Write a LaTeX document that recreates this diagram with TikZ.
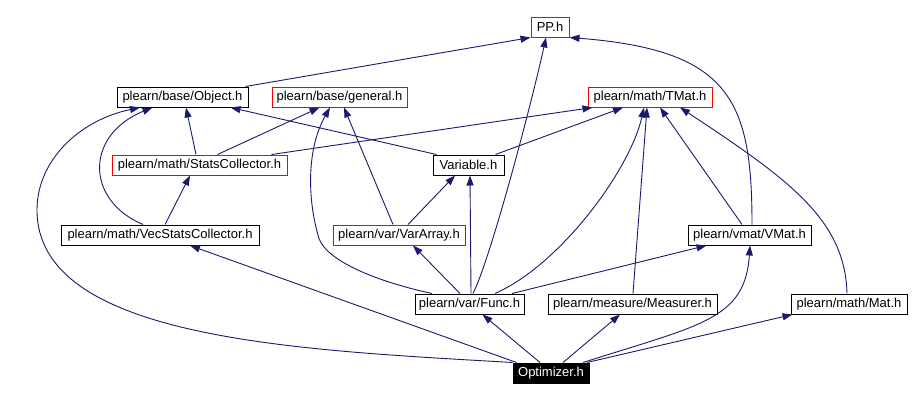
\documentclass[tikz,border=0pt]{standalone}
\usepackage{fontspec}
\setmainfont{Liberation Sans}
\usetikzlibrary{arrows.meta}
\definecolor{edgeblue}{HTML}{191970}

\begin{document}
\begin{tikzpicture}[
  x=1pt, y=-1pt,
  hdr/.style={draw=black, line width=1pt, inner sep=0pt, minimum height=20pt,
    font=\fontsize{13}{15}\selectfont},
  redhdr/.style={hdr, draw=red},
  cur/.style={hdr, fill=black, text=white},
  dep/.style={edgeblue, line width=0.9pt, -{Triangle[length=10pt,width=7pt]}}
]
\useasboundingbox (0,0) rectangle (917,418);

% ---- headers, top to bottom ----
\node[redhdr, minimum width=38pt]  (pp)     at (550,27)    {PP.h};

\node[hdr,    minimum width=131pt] (obj)    at (182.5,97)  {plearn/base/Object.h};
\node[redhdr, minimum width=135pt] (gen)    at (339.5,97)  {plearn/base/general.h};
\node[redhdr, minimum width=124pt] (tmat)   at (650,97)    {plearn/math/TMat.h};

\node[redhdr, minimum width=175pt] (stats)  at (199.5,165) {plearn/math/StatsCollector.h};
\node[hdr,    minimum width=71pt]  (var)    at (468.5,165) {Variable.h};

\node[hdr,    minimum width=198pt] (vecst)  at (160,235)   {plearn/math/VecStatsCollector.h};
\node[redhdr, minimum width=132pt] (vararr) at (399,235)   {plearn/var/VarArray.h};
\node[hdr,    minimum width=123pt] (vmat)   at (749.5,235) {plearn/vmat/VMat.h};

\node[hdr,    minimum width=109pt] (func)   at (469.5,304) {plearn/var/Func.h};
\node[hdr,    minimum width=169pt] (meas)   at (632.5,304) {plearn/measure/Measurer.h};
\node[hdr,    minimum width=116pt] (mat)    at (849,304)   {plearn/math/Mat.h};

\node[cur,    minimum width=76pt]  (opt)    at (551,373)   {Optimizer.h};

% ---- includes into PP.h ----
\draw[dep] ([xshift=-3pt]obj.north east) -- (pp.south west);
\draw[dep] ([xshift=3.5pt]func.north) .. controls (490,260) and (530,110) .. ([xshift=-4pt]pp.south);
\draw[dep] ([xshift=2.5pt]vmat.north) .. controls (752,100) and (730,50) .. (pp.south east);

% ---- StatsCollector, Variable ----
\draw[dep] ([xshift=-3.5pt]stats.north) -- ([xshift=3.5pt]obj.south);
\draw[dep] ([xshift=18pt]stats.north) -- ([xshift=-20pt]gen.south);
\draw[dep] ([xshift=-16pt]stats.north east) -- ([xshift=5pt]tmat.south west);
\draw[dep] ([xshift=4pt]var.north west) -- ([xshift=-18pt]obj.south east);
\draw[dep] ([xshift=-9pt]var.north east) -- ([xshift=-27pt]tmat.south);

% ---- VecStatsCollector, VarArray ----
\draw[dep] ([xshift=-17pt]vecst.north) .. controls (85,200) and (85,135) .. ([xshift=-30pt]obj.south);
\draw[dep] ([xshift=5pt]vecst.north) -- ([xshift=-9.5pt]stats.south);
\draw[dep] ([xshift=-6pt]vararr.north) -- ([xshift=4.5pt]gen.south);
\draw[dep] ([xshift=9pt]vararr.north) -- ([xshift=-13.5pt]var.south);

% ---- Func ----
\draw[dep] ([xshift=-37.5pt]func.north) .. controls (370,280) and (322,258) .. (318,235)
  .. controls (308,200) and (306,150) .. ([xshift=-9.5pt]gen.south);
\draw[dep] ([xshift=1.5pt]func.north) -- ([xshift=1.5pt]var.south);
\draw[dep] ([xshift=-9.5pt]func.north) -- ([xshift=14pt]vararr.south);
\draw[dep] ([xshift=25.5pt]func.north) .. controls (560,265) and (630,170) .. ([xshift=-6pt]tmat.south);
\draw[dep] ([xshift=42.5pt]func.north) -- ([xshift=19pt]vmat.south west);

% ---- into TMat.h ----
\draw[dep] ([xshift=0.5pt]meas.north) -- ([xshift=-3pt]tmat.south);
\draw[dep] ([xshift=-7.5pt]vmat.north) -- ([xshift=10pt]tmat.south);
\draw[dep] ([xshift=-2pt]mat.north) .. controls (845,220) and (790,180) .. ([xshift=30pt]tmat.south);

% ---- Optimizer.h ----
\draw[dep] (opt.north west) .. controls (300,350) and (37,340) .. (37,210)
  .. controls (37,160) and (80,120) .. ([xshift=-42.5pt]obj.south);
\draw[dep] ([xshift=4pt]opt.north west) -- ([xshift=30pt]vecst.south);
\draw[dep] ([xshift=-11pt]opt.north) -- ([xshift=13pt]func.south);
\draw[dep] ([xshift=12pt]opt.north) -- ([xshift=-12.5pt]meas.south);
\draw[dep] ([xshift=32pt]opt.north) .. controls (700,325) and (745,320) .. ([xshift=0.5pt]vmat.south);
\draw[dep] ([xshift=36pt]opt.north) -- ([xshift=2pt]mat.south west);
\end{tikzpicture}
\end{document}
